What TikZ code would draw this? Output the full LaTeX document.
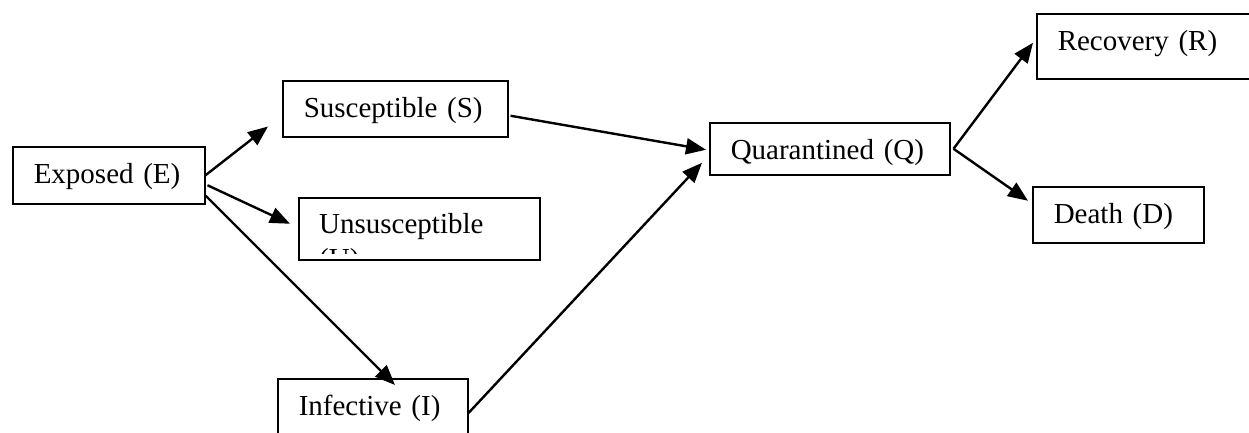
\documentclass[tikz,border=0pt]{standalone}
\usepackage{fontspec}
\setmainfont{Liberation Serif}
\usetikzlibrary{arrows.meta,calc}
\newcommand\lblfont{\fontsize{29}{35}\selectfont}
\tikzset{
  box/.style={draw, line width=1.5pt, rectangle, anchor=north west, inner xsep=21pt, inner ysep=0pt,
    align=left, text height=37pt, font=\lblfont},
  arr/.style={line width=2.4pt, -{Triangle[length=20pt,width=16pt]}}
}
\begin{document}
\begin{tikzpicture}[x=1pt,y=-1pt]
\useasboundingbox (0,0) rectangle (1249,432);
\node[box, text width=150pt, text depth=20pt] (E) at (12,146) {Exposed (E)};
\node[box, text width=183pt, text depth=19pt] (S) at (282,80) {Susceptible (S)};
\node[box, text width=199pt, text depth=25pt] (U) at (298,197) {};
\begin{scope}
  \clip (299,198) rectangle (538,253);
  \node[anchor=base west, inner sep=0pt, text width=200pt, align=left, font=\lblfont] (Utext) at (319,233) {Unsusceptible\\(U)};
\end{scope}
\node[box, text width=148pt, text depth=33pt] (I) at (277,378) {Infective (I)};
\node[box, text width=198pt, text depth=15pt] (Q) at (709,122) {Quarantined (Q)};
\node[box, text width=170.5pt, text depth=28pt] (R) at (1036,13) {Recovery (R)};
\node[box, text width=129pt, text depth=19pt] (D) at (1032,186) {Death (D)};

\draw[arr] (E.east) -- ($(S.south west)+(-14,-11)$);
\draw[arr] ($(E.east)+(2,10)$) -- ($(U.west)+(-8,-5)$);
\draw[arr] ($(E.south east)+(0,-9)$) -- ($(I.north west)+(118,7)$);
\draw[arr] ($(S.east)+(2,7)$) -- ($(Q.west)+(-3,1)$);
\draw[arr] ($(I.north east)+(0,35)$) -- ($(Q.west)+(-7,14)$);
\draw[arr] ($(Q.east)+(3,0)$) -- ($(R.west)+(-3,-3.5)$);
\draw[arr] ($(Q.east)+(3,0)$) -- ($(D.west)+(-4,-14)$);
\end{tikzpicture}
\end{document}
